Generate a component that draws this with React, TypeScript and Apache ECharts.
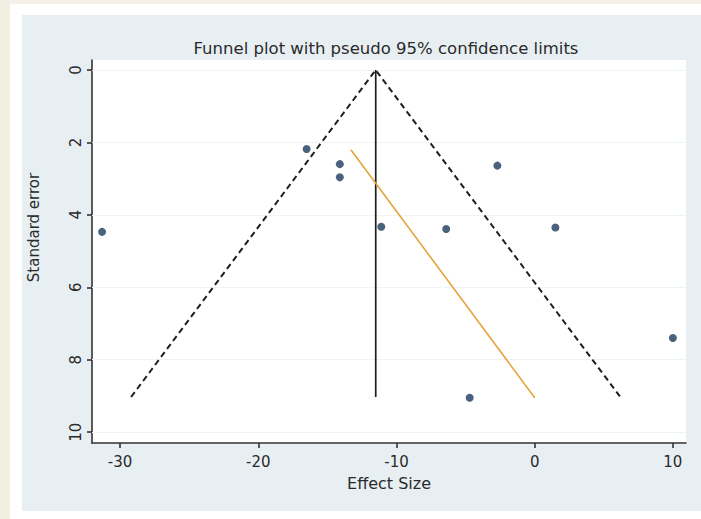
import React, { useEffect, useRef } from "react";
import * as echarts from "echarts";

const effectSizes = [-31.3, -16.5, -14.1, -14.1, -11.1, -6.4, -2.7, 1.5, 10.0, -4.7];
const standardErrors = [4.47, 2.18, 2.6, 2.96, 4.33, 4.39, 2.64, 4.35, 7.4, 9.05];
const xTicks = [-30, -20, -10, 0, 10];
const yTicks = [0, 2, 4, 6, 8, 10];
const funnelLimits = [[-29.2, 9.03], [-11.5, 0], [6.2, 9.03]];
const pooledLine = [[-11.5, 0], [-11.5, 9.03]];
const eggerLine = [[-13.3, 2.2], [0, 9.05]];

const FONT = "DejaVu Sans";
const AXIS_COLOR = "#333333";
const TEXT_COLOR = "#2a2a2a";

export default function App() {
  const ref = useRef<HTMLDivElement>(null);
  useEffect(() => {
    if (!ref.current) return;
    const chart = echarts.init(ref.current, undefined, { renderer: "svg" });
    const points = effectSizes.map((x, i) => [x, standardErrors[i]]);
    chart.setOption({
      animation: false,
      backgroundColor: "#ffffff",
      graphic: [
        { type: "rect", z: -10, shape: { x: 0, y: 0, width: 701, height: 4 }, style: { fill: "#f4f2e8" } },
        { type: "rect", z: -10, shape: { x: 0, y: 0, width: 10, height: 519 }, style: { fill: "#f0efe2" } },
        { type: "rect", z: -10, shape: { x: 22, y: 15, width: 679, height: 496 }, style: { fill: "#e8eff3" } },
      ],
      title: {
        text: "Funnel plot with pseudo 95% confidence limits",
        left: 381,
        top: 35,
        textAlign: "center",
        textStyle: { fontFamily: FONT, fontSize: 16.5, fontWeight: "normal", color: TEXT_COLOR },
      },
      grid: {
        left: 92,
        right: 15,
        top: 60,
        bottom: 76,
        show: true,
        backgroundColor: "#ffffff",
        borderWidth: 0,
        containLabel: false,
        outerBoundsMode: "none",
      },
      xAxis: {
        type: "value",
        min: -32.03,
        max: 10.95,
        name: "Effect Size",
        nameLocation: "middle",
        nameGap: 32,
        nameTextStyle: { fontFamily: FONT, fontSize: 16, color: TEXT_COLOR },
        axisLine: { show: true, onZero: false, lineStyle: { color: AXIS_COLOR, width: 1.6 } },
        axisTick: { show: true, length: 5, customValues: xTicks, lineStyle: { color: AXIS_COLOR, width: 1.6 } },
        axisLabel: { customValues: xTicks, margin: 11, fontFamily: FONT, fontSize: 15, color: TEXT_COLOR },
        splitLine: { show: false },
      },
      yAxis: {
        type: "value",
        inverse: true,
        min: -0.276,
        max: 10.3,
        name: "Standard error",
        nameLocation: "middle",
        nameGap: 51,
        nameTextStyle: { fontFamily: FONT, fontSize: 15, color: TEXT_COLOR, padding: [0, 0, 0, 48] },
        axisLine: { show: true, onZero: false, lineStyle: { color: AXIS_COLOR, width: 1.6 } },
        axisTick: { show: true, length: 5, customValues: yTicks, lineStyle: { color: AXIS_COLOR, width: 1.6 } },
        axisLabel: { customValues: yTicks, rotate: 90, margin: 9, fontFamily: FONT, fontSize: 15, color: TEXT_COLOR },
        splitLine: { show: false },
      },
      series: [
        {
          type: "line",
          data: funnelLimits,
          symbol: "none",
          lineStyle: { color: "#1e1e1e", width: 2, type: [6, 4] },
          silent: true,
          markLine: {
            silent: true,
            symbol: "none",
            label: { show: false },
            lineStyle: { color: "#eef3f5", width: 1, type: "solid" },
            data: yTicks.map((v) => ({ yAxis: v })),
            z: 1,
          },
        },
        {
          type: "line",
          data: pooledLine,
          symbol: "none",
          lineStyle: { color: "#1e1e1e", width: 1.7 },
          silent: true,
        },
        {
          type: "line",
          data: eggerLine,
          symbol: "none",
          lineStyle: { color: "#e8a23c", width: 1.6 },
          silent: true,
        },
        {
          type: "scatter",
          data: points,
          symbol: "circle",
          symbolSize: 8,
          itemStyle: { color: "#1d3b5c" },
          z: 5,
        },
      ],
    });
    return () => chart.dispose();
  }, []);
  return <div ref={ref} style={{ position: "absolute", left: 0, top: 0, width: 701, height: 519 }} />;
}
